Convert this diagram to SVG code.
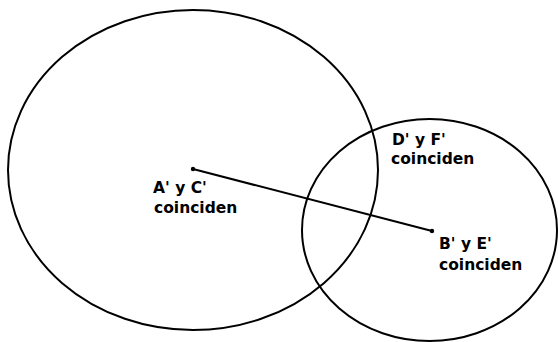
<svg xmlns="http://www.w3.org/2000/svg" width="558" height="342" viewBox="0 0 558 342">
  <style>
    .shape { fill: none; stroke: #000; stroke-width: 2; }
    .lbl { font-family: "DejaVu Sans", Verdana, sans-serif; font-weight: bold; font-size: 15.5px; fill: #000; }
    .dot { fill: #000; }
  </style>
  <rect width="558" height="342" fill="#fff"/>
  <g id="circle-large">
    <ellipse class="shape" cx="193" cy="170" rx="185" ry="160"/>
  </g>
  <g id="circle-small">
    <ellipse class="shape" cx="429.5" cy="230" rx="127.5" ry="111"/>
  </g>
  <g id="connectors">
    <line class="shape" x1="193" y1="169" x2="432" y2="231"/>
  </g>
  <g id="node-AC">
    <circle class="dot" cx="193" cy="169" r="2.2"/>
    <text class="lbl" x="153" y="193">A' y C'</text>
    <text class="lbl" x="154" y="213">coinciden</text>
  </g>
  <g id="node-BE">
    <circle class="dot" cx="432" cy="231" r="2.2"/>
    <text class="lbl" x="439" y="249">B' y E'</text>
    <text class="lbl" x="439" y="270">coinciden</text>
  </g>
  <g id="node-DF">
    <text class="lbl" x="392" y="145">D' y F'</text>
    <text class="lbl" x="391" y="164">coinciden</text>
  </g>
</svg>
